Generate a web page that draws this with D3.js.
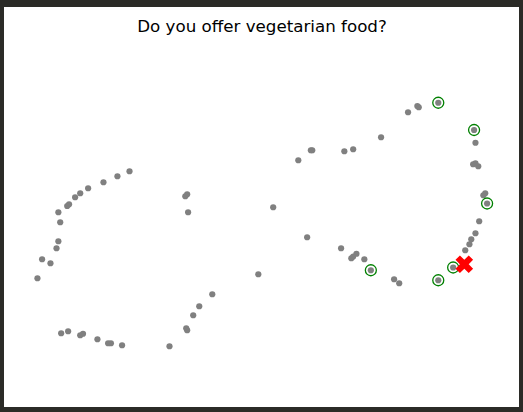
<!DOCTYPE html>
<html>
<head>
<meta charset="utf-8">
<script src="https://cdn.jsdelivr.net/npm/d3@7"></script>
<style>
html,body{margin:0;padding:0;background:#2b2b27;}
svg{display:block;}
</style>
</head>
<body>
<svg id="chart" width="523" height="412"></svg>
<script>
const title = "Do you offer vegetarian food?";
// point coordinates in data units (x: 0..100, y: 0..100)
const xs = [21.4,18.8,15.8,12.5,10.8,9.7,8.4,8.0,6.1,6.5,6.1,5.7,2.6,4.4,1.6,
  33.8,33.4,34.0,49.1,39.2,36.4,35.1,33.6,33.8,30.0,
  6.7,8.2,10.8,11.4,14.5,16.8,17.4,19.8,
  75.5,60.4,60.7,67.6,69.5,57.7,52.3,59.6,66.9,69.1,69.5,70.2,71.9,73.3,78.3,79.4,
  87.8,91.0,93.6,94.5,94.9,95.8,96.6,98.3,97.5,97.9,95.3,95.8,96.4,95.8,95.5,87.8,81.3,83.3,83.6];
const ys = [71.5,69.5,67.1,64.7,62.7,61.1,58.3,57.6,55.1,51.1,43.5,40.7,36.3,34.7,28.7,
  62.3,61.5,55.1,30.3,22.3,17.5,13.9,8.7,7.9,1.5,
  6.7,7.5,5.9,6.5,4.3,2.7,2.7,1.9,
  85.1,79.9,79.9,79.5,80.3,75.9,57.1,45.1,40.7,36.7,37.4,38.5,36.3,31.9,28.3,26.7,
  27.9,33.0,39.9,42.3,44.3,46.7,51.5,58.6,61.9,62.7,74.3,74.7,73.5,82.9,88.0,98.9,95.1,97.6,97.1];
// highlighted (circled) points
const hx = [73.3,87.8,91.0,98.3,95.5,87.8];
const hy = [31.9,27.9,33.0,58.6,88.0,98.9];
// query point (red X)
const qx = [93.4];
const qy = [34.3];

const svg = d3.select("#chart");
svg.append("rect").attr("x",4).attr("y",7).attr("width",515).attr("height",400).attr("fill","#ffffff");

const x = d3.scaleLinear().domain([0,100]).range([30,495]);
const y = d3.scaleLinear().domain([0,100]).range([350,100]);

svg.append("text").attr("x",262).attr("y",32).attr("text-anchor","middle")
  .attr("font-family","DejaVu Sans").attr("font-size",16.7).attr("fill","#000")
  .text(title);

const pts = xs.map((v,i)=>({x:v,y:ys[i]}));
svg.append("g").selectAll("circle").data(pts).join("circle")
  .attr("cx",d=>x(d.x)).attr("cy",d=>y(d.y)).attr("r",3.1).attr("fill","#808080");

const hl = hx.map((v,i)=>({x:v,y:hy[i]}));
svg.append("g").selectAll("circle").data(hl).join("circle")
  .attr("cx",d=>x(d.x)).attr("cy",d=>y(d.y)).attr("r",5.5)
  .attr("fill","none").attr("stroke","#008000").attr("stroke-width",1.3);

// filled X marker (matplotlib 'X' shape)
const xv = [[-1,-2],[0,-1],[1,-2],[2,-1],[1,0],[2,1],[1,2],[0,1],[-1,2],[-2,1],[-1,0],[-2,-1]];
const unit = 4.4;
const xPath = "M" + xv.map(p=>[p[0]*unit,p[1]*unit].join(",")).join("L") + "Z";
const q = qx.map((v,i)=>({x:v,y:qy[i]}));
svg.append("g").selectAll("path").data(q).join("path")
  .attr("transform",d=>`translate(${x(d.x)},${y(d.y)})`)
  .attr("d",xPath).attr("fill","#ff0000");
</script>
</body>
</html>
